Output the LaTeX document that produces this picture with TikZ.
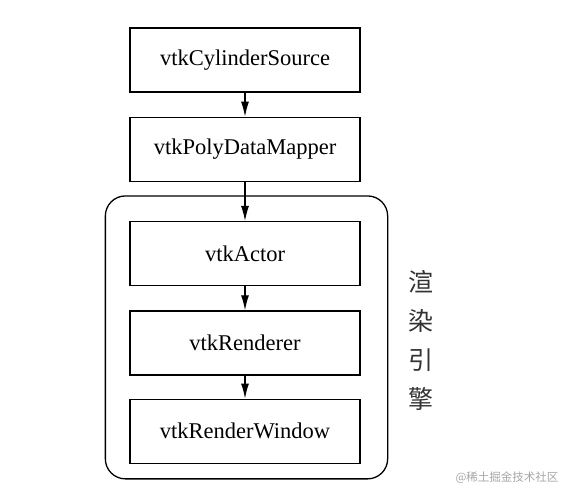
\documentclass[tikz,border=0pt]{standalone}
\usepackage{fontspec}
\setmainfont{Liberation Serif}
\newfontfamily\cjk{Noto Sans CJK SC}
\usetikzlibrary{positioning,arrows.meta,calc,fit}
\tikzset{
  stage/.style={draw,line width=1.3pt,minimum width=230pt,minimum height=64pt,
    inner sep=0pt,font=\fontsize{22.5}{26}\selectfont},
  flow/.style={line width=1.2pt,-{Latex[length=15pt,width=8pt]}}
}

\begin{document}
\begin{tikzpicture}[node distance=24pt]
\useasboundingbox (0,0) rectangle (575pt,-499pt);
\node(source)	[stage] at (245pt,-60pt)
{vtkCylinderSource};
\node(mapper)	[stage,below=of source]
{vtkPolyDataMapper};
\node(actor)	[stage,below=39pt of mapper]
{vtkActor};
\node(renderer)	[stage,below=of actor]
{vtkRenderer};
\node(window)	[stage,below=23pt of renderer]
{vtkRenderWindow};

% render engine frame
\coordinate(tl) at ($(actor.north west)+(-24pt,25pt)$);
\coordinate(br) at ($(window.south east)+(27pt,-15pt)$);
\node(engine)	[draw,line width=1.3pt,rounded corners=20pt,inner sep=0pt,fit=(tl)(br)] {};
\node(label)	[right=17pt of engine,yshift=-3pt,align=center,
  font=\cjk\fontsize{25}{39}\selectfont,text=black!80]
{渲\\染\\引\\擎};

\draw[flow](source) -- (mapper);
\draw[flow](mapper) -- (actor);
\draw[flow](actor)  -- (renderer);
\draw[flow](renderer) -- (window);

\node(mark) at (507pt,-478pt) {\cjk\fontsize{11.5}{14}\selectfont\color{black!35}@稀土掘金技术社区};
\end{tikzpicture}
\end{document}
